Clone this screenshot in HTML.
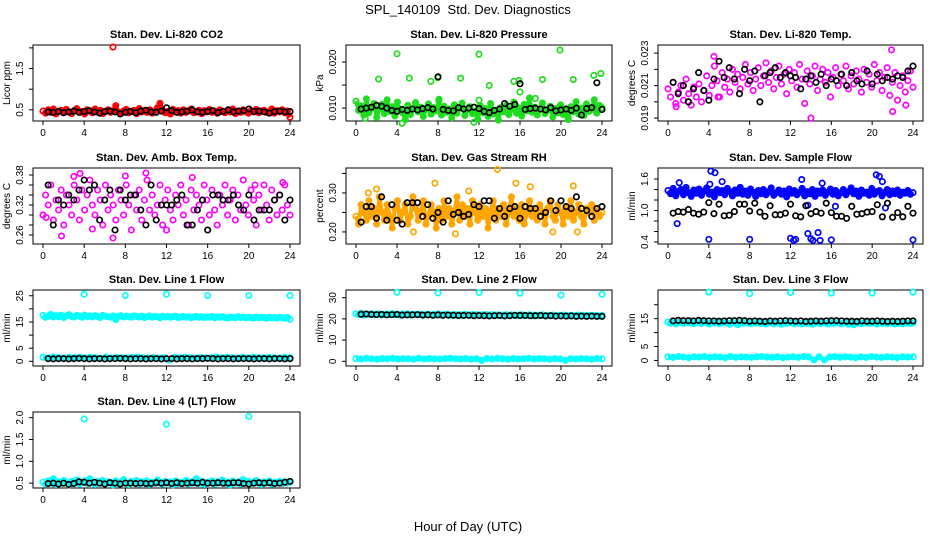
<!DOCTYPE html>
<html><head><meta charset="utf-8">
<style>
html,body{margin:0;padding:0;background:#fff;}
svg{display:block;font-family:"Liberation Sans",sans-serif;}
</style></head>
<body>
<svg id="chart" width="936" height="540" viewBox="0 0 936 540" xmlns="http://www.w3.org/2000/svg">
<text x="468" y="14" font-size="13" text-anchor="middle" xml:space="preserve">SPL_140109  Std. Dev. Diagnostics</text>
<text x="468" y="531" font-size="13" text-anchor="middle">Hour of Day (UTC)</text>
</svg>
<script>
// ---------- data ----------
const co2Main=[0.47,0.42,0.50,0.44,0.52,0.40,0.46,0.49,0.43,0.51,0.45,0.41,0.48,0.53,0.44,0.46,0.40,0.50,0.47,0.43,0.52,0.45,0.49,0.41,0.46,0.50,0.44,0.48,0.60,0.45,0.42,0.47,0.51,0.43,0.46,0.49,0.41,0.53,0.45,0.48,0.44,0.50,0.42,0.47,0.55,0.66,0.49,0.43,0.46,0.40,0.51,0.45,0.48,0.42,0.50,0.44,0.47,0.52,0.43,0.46,0.49,0.41,0.48,0.45,0.51,0.44,0.47,0.42,0.50,0.46,0.43,0.49,0.45,0.52,0.41,0.47,0.44,0.50,0.46,0.42,0.48,0.45,0.51,0.43,0.47,0.49,0.44,0.46,0.52,0.42,0.48,0.45,0.50,0.43,0.47,0.32];
const co2Out=[[6.8,2.02]];
const co2Black=[0.45,0.44,0.46,0.43,0.45,0.47,0.44,0.46,0.48,0.45,0.42,0.46,0.47,0.45,0.40,0.44,0.46,0.43,0.47,0.49,0.45,0.44,0.47,0.55,0.48,0.44,0.45,0.47,0.50,0.45,0.44,0.46,0.48,0.43,0.46,0.50,0.45,0.47,0.48,0.52,0.46,0.47,0.45,0.42,0.46,0.47,0.45,0.46];

const presMain=[0.0115,0.0095,0.0105,0.0085,0.0120,0.0090,0.0100,0.0110,0.0080,0.0098,0.0108,0.0088,0.0118,0.0093,0.0103,0.0083,0.0113,0.0096,0.0090,0.0075,0.0106,0.0086,0.0099,0.0112,0.0092,0.0102,0.0082,0.0097,0.0109,0.0087,0.0101,0.0094,0.0116,0.0085,0.0104,0.0091,0.0098,0.0079,0.0107,0.0089,0.0100,0.0111,0.0084,0.0096,0.0103,0.0088,0.0093,0.0076,0.0105,0.0090,0.0099,0.0082,0.0110,0.0087,0.0095,0.0074,0.0101,0.0092,0.0106,0.0086,0.0097,0.0113,0.0089,0.0100,0.0083,0.0108,0.0094,0.0122,0.0091,0.0102,0.0085,0.0098,0.0111,0.0088,0.0095,0.0104,0.0081,0.0099,0.0090,0.0107,0.0086,0.0096,0.0078,0.0103,0.0092,0.0114,0.0087,0.0100,0.0084,0.0109,0.0093,0.0097,0.0118,0.0089,0.0106,0.0101];
const presOut=[[4.0,0.0218],[12.0,0.0217],[19.9,0.0226],[2.2,0.0163],[5.2,0.0165],[7.3,0.0158],[8.0,0.0166],[10.2,0.0165],[13.0,0.0149],[15.4,0.0158],[15.9,0.0160],[16.0,0.0135],[18.2,0.0162],[21.2,0.0162],[23.2,0.0171],[23.9,0.0175],[12.0,0.0117],[8.1,0.0119],[17.5,0.0121],[4.5,0.0067],[11.5,0.0069],[20.7,0.0075],[0.9,0.0078]];
const presBlack=[0.0098,0.0100,0.0102,0.0106,0.0104,0.0100,0.0095,0.0093,0.0097,0.0095,0.0098,0.0096,0.0099,0.0101,0.0098,0.0168,0.0097,0.0095,0.0094,0.0101,0.0098,0.0100,0.0102,0.0099,0.0093,0.0090,0.0095,0.0098,0.0110,0.0104,0.0108,0.0153,0.0097,0.0099,0.0100,0.0098,0.0096,0.0101,0.0094,0.0096,0.0098,0.0095,0.0100,0.0085,0.0099,0.0101,0.0155,0.0097];

const tempMain=[0.0208,0.0203,0.0212,0.0199,0.0206,0.0210,0.0201,0.0214,0.0205,0.0198,0.0209,0.0203,0.0211,0.0200,0.0207,0.0216,0.0204,0.0210,0.0222,0.0213,0.0203,0.0218,0.0209,0.0214,0.0206,0.0220,0.0212,0.0217,0.0208,0.0215,0.0223,0.0211,0.0218,0.0207,0.0214,0.0221,0.0210,0.0216,0.0224,0.0212,0.0219,0.0208,0.0215,0.0222,0.0211,0.0217,0.0205,0.0220,0.0213,0.0218,0.0209,0.0223,0.0214,0.0199,0.0219,0.0211,0.0216,0.0222,0.0207,0.0214,0.0220,0.0212,0.0218,0.0203,0.0215,0.0221,0.0210,0.0217,0.0213,0.0222,0.0208,0.0216,0.0211,0.0219,0.0214,0.0206,0.0220,0.0212,0.0217,0.0209,0.0223,0.0213,0.0218,0.0207,0.0215,0.0221,0.0204,0.0212,0.0218,0.0201,0.0210,0.0216,0.0206,0.0213,0.0219,0.0209];
const tempOut=[[14.0,0.0190],[21.9,0.0232],[22.0,0.0194],[0.8,0.0197],[4.5,0.0228],[23.3,0.0198],[2.0,0.0200],[4.9,0.0203]];
const tempBlack=[0.0212,0.0205,0.0210,0.0200,0.0208,0.0218,0.0207,0.0201,0.0214,0.0225,0.0215,0.0221,0.0214,0.0205,0.0220,0.0213,0.0219,0.0200,0.0216,0.0218,0.0221,0.0215,0.0218,0.0216,0.0215,0.0208,0.0214,0.0216,0.0212,0.0217,0.0210,0.0214,0.0213,0.0217,0.0210,0.0218,0.0213,0.0211,0.0219,0.0211,0.0217,0.0213,0.0215,0.0214,0.0216,0.0215,0.0219,0.0222];

const boxMain=[0.30,0.34,0.32,0.36,0.29,0.33,0.31,0.35,0.28,0.34,0.32,0.30,0.36,0.33,0.29,0.35,0.31,0.34,0.37,0.32,0.30,0.35,0.33,0.28,0.36,0.31,0.34,0.32,0.29,0.35,0.33,0.30,0.36,0.32,0.27,0.34,0.31,0.35,0.29,0.33,0.37,0.31,0.34,0.30,0.32,0.36,0.28,0.33,0.35,0.31,0.29,0.34,0.32,0.36,0.30,0.33,0.28,0.35,0.31,0.34,0.32,0.29,0.36,0.33,0.30,0.35,0.31,0.28,0.34,0.32,0.36,0.30,0.33,0.35,0.29,0.34,0.31,0.37,0.32,0.30,0.35,0.33,0.28,0.34,0.31,0.36,0.32,0.29,0.35,0.33,0.30,0.34,0.31,0.36,0.32,0.30];
const boxOut=[[0.3,0.295],[1.8,0.258],[3.0,0.377],[3.6,0.383],[6.8,0.254],[10.0,0.384],[14.5,0.375],[4.8,0.272],[12.0,0.27],[8.0,0.378],[23.3,0.365],[20.6,0.36]];
const boxBlack=[0.36,0.28,0.33,0.32,0.34,0.33,0.35,0.37,0.35,0.36,0.29,0.33,0.35,0.27,0.35,0.33,0.34,0.34,0.31,0.28,0.36,0.29,0.32,0.32,0.32,0.33,0.34,0.28,0.28,0.31,0.33,0.27,0.34,0.34,0.33,0.33,0.34,0.32,0.31,0.34,0.29,0.31,0.31,0.31,0.33,0.34,0.29,0.33];

const rhMain=[0.24,0.22,0.27,0.25,0.23,0.28,0.24,0.26,0.22,0.29,0.25,0.23,0.27,0.24,0.21,0.26,0.28,0.23,0.25,0.27,0.22,0.24,0.29,0.26,0.23,0.25,0.28,0.22,0.24,0.27,0.25,0.21,0.26,0.23,0.28,0.24,0.26,0.22,0.25,0.29,0.23,0.27,0.24,0.26,0.22,0.28,0.25,0.23,0.27,0.24,0.26,0.21,0.25,0.28,0.23,0.26,0.24,0.27,0.22,0.25,0.29,0.24,0.26,0.23,0.27,0.22,0.25,0.28,0.24,0.26,0.23,0.27,0.25,0.22,0.26,0.28,0.24,0.23,0.27,0.25,0.22,0.26,0.24,0.28,0.23,0.25,0.27,0.24,0.22,0.26,0.25,0.27,0.23,0.26,0.24,0.25];
const rhOut=[[13.8,0.36],[7.7,0.325],[15.6,0.325],[21.2,0.318],[17.0,0.316],[5.6,0.20],[9.7,0.195],[19.2,0.20],[21.6,0.20],[1.2,0.30],[2.0,0.31],[11.0,0.305]];
const rhBlack=[0.225,0.265,0.265,0.235,0.29,0.23,0.27,0.23,0.22,0.275,0.275,0.275,0.24,0.27,0.235,0.25,0.225,0.28,0.245,0.25,0.24,0.245,0.27,0.265,0.28,0.28,0.235,0.26,0.24,0.26,0.265,0.235,0.265,0.26,0.26,0.24,0.25,0.28,0.255,0.28,0.265,0.26,0.29,0.26,0.255,0.24,0.26,0.265];

const flowMain=[1.38,1.32,1.42,1.28,1.36,1.40,1.30,1.44,1.34,1.27,1.39,1.33,1.41,1.29,1.37,1.43,1.31,1.35,1.26,1.40,1.34,1.38,1.30,1.42,1.36,1.28,1.39,1.33,1.44,1.31,1.37,1.29,1.41,1.35,1.27,1.38,1.32,1.40,1.30,1.36,1.43,1.29,1.34,1.39,1.31,1.37,1.26,1.41,1.33,1.38,1.30,1.35,1.42,1.28,1.36,1.32,1.40,1.27,1.37,1.33,1.39,1.29,1.35,1.41,1.31,1.38,1.28,1.34,1.40,1.30,1.36,1.43,1.32,1.37,1.27,1.39,1.33,1.35,1.29,1.42,1.31,1.36,1.38,1.28,1.34,1.40,1.30,1.37,1.32,1.39,1.29,1.35,1.33,1.38,1.31,1.34];
const flowOut=[[4.0,0.45],[8.0,0.45],[12.0,0.47],[12.3,0.43],[12.5,0.45],[13.7,0.56],[14.0,0.46],[14.2,0.43],[14.7,0.58],[14.9,0.43],[16.0,0.44],[24.0,0.44],[0.9,0.75],[4.2,1.75],[4.6,1.72],[20.4,1.68],[20.7,1.65],[21.0,1.55],[13.1,1.59],[1.1,1.53],[5.3,1.55],[4.1,1.5],[15.1,1.52],[21.3,1.05],[16.4,1.08],[13.7,1.1]];
const flowBlack=[0.95,0.98,0.97,1.02,0.95,0.93,0.97,1.15,0.94,1.12,0.90,0.91,0.98,1.12,1.12,0.99,1.14,0.97,0.89,1.09,0.92,0.92,0.95,1.12,0.90,0.88,1.09,0.94,0.98,0.95,1.14,0.96,0.89,0.89,0.85,1.08,0.93,0.94,0.97,0.98,1.11,0.88,1.14,0.87,0.96,0.88,1.08,0.95];

const l1High=[17.5,16.8,17.2,17.9,16.9,17.4,17.0,17.6,16.7,17.3,17.8,17.1,16.9,17.5,17.2,16.8,17.6,17.0,17.3,16.9,17.4,17.1,16.7,17.5,17.2,17.0,16.8,17.3,15.9,17.1,17.4,16.9,17.2,17.0,16.8,17.3,17.1,16.9,17.2,16.7,17.0,17.3,16.8,17.1,17.0,16.6,17.2,16.9,17.1,16.8,17.0,17.2,16.7,16.9,17.1,16.8,17.0,16.6,16.9,17.1,16.8,17.0,16.7,16.9,16.8,17.1,16.6,16.9,16.8,17.0,16.7,16.5,16.9,16.8,16.6,17.0,16.7,16.9,16.6,16.8,16.7,16.5,16.9,16.6,16.8,16.7,16.4,16.8,16.6,16.7,16.5,16.8,16.6,16.4,16.7,16.0];
const l1Low=[1.5,1.3,1.6,1.4,1.2,1.5,1.4,1.6,1.3,1.5,1.4,1.2,1.6,1.3,1.5,1.4,1.3,1.5,1.6,1.4,1.3,1.5,1.2,1.4,0.5,1.5,1.3,1.6,1.4,1.2,1.5,1.3,1.4,1.6,1.3,1.5,1.4,1.2,1.5,1.3,1.6,1.4,1.3,1.5,1.4,1.2,1.5,1.4];
const l1Out=[[4,25.6],[8,25.1],[12,25.6],[16,25.1],[20,25.1],[24,25.1]];
const l1Black=[1.0,0.9,1.0,1.0,0.9,1.0,1.1,1.0,0.9,1.0,1.0,0.9,1.0,1.0,1.1,1.0,0.9,1.0,1.0,0.9,1.0,1.0,0.9,1.0,1.0,0.9,1.0,1.0,0.9,1.0,1.0,1.1,1.0,0.9,1.0,1.0,0.9,1.0,1.0,1.0,0.9,1.0,1.0,0.9,1.0,1.0,0.9,1.0];

const l2High=[22.4,22.0,22.6,21.8,22.3,22.1,22.5,21.9,22.2,22.4,21.8,22.1,22.3,22.0,22.5,21.9,22.2,21.7,22.3,22.0,22.4,21.8,22.1,22.2,21.9,22.3,21.7,22.0,22.2,21.8,22.1,21.9,22.3,21.7,22.0,22.2,21.6,21.9,22.1,21.8,22.0,21.7,22.2,21.9,21.6,22.1,21.8,22.0,21.7,21.9,22.1,21.6,21.8,22.0,21.7,21.9,21.5,21.8,22.0,21.6,21.9,21.7,21.5,21.8,22.0,21.6,21.7,21.9,21.5,21.8,21.6,21.7,21.9,21.5,21.7,21.6,21.8,21.4,21.7,21.5,21.8,21.6,21.4,21.7,21.5,21.6,21.8,21.4,21.6,21.5,21.7,21.3,21.6,21.5,21.4,21.6];
const l2Low=[1.3,1.1,1.4,1.2,1.0,1.3,1.2,1.4,1.1,1.3,1.2,1.0,1.4,1.1,1.3,1.2,1.1,1.3,1.4,1.2,1.1,1.3,1.0,1.2,0.4,1.3,1.1,1.4,1.2,1.0,1.3,1.1,1.2,1.4,1.1,1.3,1.2,1.0,1.3,1.1,0.5,1.2,1.1,1.3,1.2,1.0,1.3,1.2];
const l2Out=[[4,32.5],[8,32.2],[12,32.4],[16,32.1],[20,31.2],[24,31.6]];
const l2Black=[22.2,22.3,22.1,22.0,22.1,21.9,22.0,22.1,21.8,21.9,21.9,22.0,21.8,21.9,21.7,21.9,21.7,21.8,21.7,21.6,21.6,21.7,21.5,21.6,21.5,21.4,21.5,21.6,21.4,21.5,21.7,21.6,21.6,21.5,21.5,21.6,21.4,21.5,21.3,21.4,21.3,21.4,21.2,21.3,21.2,21.3,21.2,21.2];

const l3High=[13.8,13.4,14.0,13.2,13.6,13.9,13.3,13.7,13.5,14.1,13.2,13.6,13.8,13.3,13.9,13.5,13.1,13.7,13.4,13.9,13.2,13.6,13.8,13.4,13.0,13.7,13.5,12.9,13.6,13.3,13.8,13.5,13.2,13.7,13.4,13.9,13.3,13.6,13.1,13.8,13.5,13.2,13.7,13.4,13.0,13.6,13.3,13.8,13.5,13.2,13.7,13.4,13.1,13.6,13.3,13.8,13.0,13.5,13.7,13.2,13.6,13.4,13.1,13.8,13.3,13.5,13.7,13.2,13.4,13.6,13.0,13.5,12.8,13.3,13.6,13.2,13.5,13.7,13.3,13.4,13.6,13.1,13.5,13.3,13.7,13.2,13.4,13.6,13.1,13.3,13.5,13.2,13.6,13.4,13.3,13.5];
const l3Low=[1.3,1.1,1.4,1.2,1.0,1.3,1.2,1.4,1.1,1.3,1.2,1.0,1.4,1.1,1.3,1.2,1.1,1.3,1.4,1.2,1.1,1.3,1.0,1.2,1.3,1.1,1.4,1.2,0.2,1.3,0.2,1.2,1.4,1.1,1.3,1.2,1.0,1.3,1.1,1.4,1.2,1.1,1.3,1.2,1.0,1.3,1.2,1.3];
const l3Out=[[4,24.5],[8,24.0],[12,24.4],[16,24.2],[20,24.2],[24,24.5]];
const l3Black=[14.2,14.4,14.3,14.3,14.2,14.4,14.3,14.2,14.2,14.1,14.2,14.3,14.3,14.4,14.3,14.1,14.2,14.1,14.0,14.2,14.1,14.2,14.3,14.2,14.1,14.2,14.0,14.1,14.2,14.1,14.2,14.3,14.3,14.2,14.1,14.1,14.0,14.2,14.1,14.1,14.2,14.1,14.0,14.1,14.0,14.1,14.2,14.2];

const l4Main=[0.52,0.48,0.55,0.50,0.60,0.47,0.53,0.49,0.56,0.51,0.46,0.54,0.50,0.57,0.48,0.52,0.55,0.49,0.60,0.51,0.47,0.54,0.50,0.56,0.48,0.53,0.51,0.46,0.55,0.49,0.52,0.58,0.50,0.47,0.54,0.51,0.56,0.48,0.53,0.50,0.55,0.47,0.52,0.49,0.57,0.51,0.48,0.54,0.50,0.53,0.46,0.55,0.49,0.52,0.50,0.56,0.48,0.53,0.51,0.60,0.49,0.54,0.47,0.52,0.50,0.55,0.48,0.53,0.51,0.57,0.49,0.52,0.46,0.55,0.50,0.53,0.48,0.58,0.51,0.54,0.49,0.52,0.56,0.50,0.47,0.53,0.51,0.55,0.48,0.52,0.50,0.54,0.49,0.53,0.51,0.52];
const l4Out=[[4,1.97],[12,1.85],[20,2.03]];
const l4Black=[0.49,0.50,0.48,0.50,0.47,0.49,0.53,0.52,0.50,0.52,0.50,0.48,0.51,0.50,0.48,0.50,0.50,0.49,0.50,0.49,0.49,0.51,0.50,0.51,0.49,0.51,0.49,0.50,0.51,0.50,0.52,0.50,0.50,0.51,0.50,0.50,0.51,0.51,0.49,0.48,0.50,0.51,0.50,0.51,0.49,0.50,0.52,0.54];

const xTicks=[0,4,8,12,16,20,24];

// ---------- panel config ----------
const panels=[
 {id:'co2',col:0,row:0,title:'Stan. Dev. Li-820 CO2',ylab:'Licor ppm',ylim:[0.23,2.07],ticks:[0.5,1.0,1.5,2.0],labels:['0.5','','1.5',''],color:'#ff0000',band:true,series:[co2Main],out:[co2Out],black:co2Black},
 {id:'pressure',col:1,row:0,title:'Stan. Dev. Li-820 Pressure',ylab:'kPa',ylim:[0.0072,0.0237],ticks:[0.010,0.015,0.020],labels:['0.010','','0.020'],color:'#1edc1e',band:true,series:[presMain],out:[presOut],black:presBlack},
 {id:'temp',col:2,row:0,title:'Stan. Dev. Li-820 Temp.',ylab:'degrees C',ylim:[0.01882,0.0235],ticks:[0.019,0.020,0.021,0.022,0.023],labels:['0.019','','0.021','','0.023'],color:'#ff00ff',band:false,series:[tempMain],out:[tempOut],black:tempBlack},
 {id:'box-temp',col:0,row:1,title:'Stan. Dev. Amb. Box Temp.',ylab:'degrees C',ylim:[0.242,0.394],ticks:[0.26,0.28,0.30,0.32,0.34,0.36,0.38],labels:['0.26','','','0.32','','','0.38'],color:'#ff00ff',band:false,series:[boxMain],out:[boxOut],black:boxBlack},
 {id:'rh',col:1,row:1,title:'Stan. Dev. Gas Stream RH',ylab:'percent',ylim:[0.169,0.364],ticks:[0.20,0.25,0.30,0.35],labels:['0.20','','0.30',''],color:'#ffa500',band:true,series:[rhMain],out:[rhOut],black:rhBlack},
 {id:'sample-flow',col:2,row:1,title:'Stan. Dev. Sample Flow',ylab:'ml/min',ylim:[0.362,1.81],ticks:[0.4,0.6,0.8,1.0,1.2,1.4,1.6],labels:['0.4','','','1.0','','','1.6'],color:'#0000ff',band:true,series:[flowMain],out:[flowOut],black:flowBlack},
 {id:'line1',col:0,row:2,title:'Stan. Dev. Line 1 Flow',ylab:'ml/min',ylim:[-1.8,27.2],ticks:[0,5,10,15,20,25],labels:['0','5','','15','','25'],color:'#00ffff',band:true,series:[l1High,l1Low],out:[l1Out],black:l1Black},
 {id:'line2',col:1,row:2,title:'Stan. Dev. Line 2 Flow',ylab:'ml/min',ylim:[-2.2,33.6],ticks:[0,10,20,30],labels:['0','10','20','30'],color:'#00ffff',band:true,series:[l2High,l2Low],out:[l2Out],black:l2Black},
 {id:'line3',col:2,row:2,title:'Stan. Dev. Line 3 Flow',ylab:'ml/min',ylim:[-2,25.3],ticks:[0,5,10,15,20],labels:['0','5','','15',''],color:'#00ffff',band:true,series:[l3High,l3Low],out:[l3Out],black:l3Black},
 {id:'line4',col:0,row:3,title:'Stan. Dev. Line 4 (LT) Flow',ylab:'ml/min',ylim:[0.388,2.13],ticks:[0.5,1.0,1.5,2.0],labels:['0.5','1.0','1.5','2.0'],color:'#00ffff',band:true,series:[l4Main],out:[l4Out],black:l4Black}
];

// ---------- drawing ----------
const NS='http://www.w3.org/2000/svg';
const svg=document.getElementById('chart');
const colX0=[43,356,668], colSpan=[247,246,245], rowTop=[45,168,290,412], H=76;
function mk(tag,attrs,parent){const e=document.createElementNS(NS,tag);for(const k in attrs)e.setAttribute(k,attrs[k]);parent.appendChild(e);return e;}

panels.forEach(p=>{
  const g=mk('g',{},svg);
  
  
  const x0=colX0[p.col], SPAN=colSpan[p.col], left=x0-10, right=x0+SPAN+10, top=rowTop[p.row], bot=top+H;
  const xs=h=>x0+h/24*SPAN;
  const ys=v=>bot-(v-p.ylim[0])/(p.ylim[1]-p.ylim[0])*H;
  const t=mk('text',{x:(left+right)/2,y:top-7,'font-size':11,'font-weight':'bold','text-anchor':'middle'},g);
  t.textContent=p.title;
  
  
  const fr=mk('rect',{x:left,y:top,width:right-left,height:H,fill:'none',stroke:'#000','stroke-width':1},g);
  
  
  const xa=mk('g',{},g);
  
  
  mk('line',{x1:xs(0),x2:xs(24),y1:bot,y2:bot,stroke:'#000'},xa);
  xTicks.forEach(v=>{
    mk('line',{x1:xs(v),x2:xs(v),y1:bot,y2:bot+4,stroke:'#000'},xa);
    const l=mk('text',{x:xs(v),y:bot+15,'font-size':10,'text-anchor':'middle'},xa);
    l.textContent=v;
    
    
  });
  const ya=mk('g',{},g);
  
  
  mk('line',{x1:left,x2:left,y1:ys(p.ticks[0]),y2:ys(p.ticks[p.ticks.length-1]),stroke:'#000'},ya);
  p.ticks.forEach((v,i)=>{
    mk('line',{x1:left-4,x2:left,y1:ys(v),y2:ys(v),stroke:'#000'},ya);
    if(p.labels[i]){
      const l=mk('text',{x:left-10,y:ys(v),'font-size':10,'text-anchor':'middle',transform:`rotate(-90 ${left-10} ${ys(v)})`},ya);
      l.textContent=p.labels[i];
      
      
    }
  });
  const yl=mk('text',{x:left-23,y:(top+bot)/2,'font-size':10,'text-anchor':'middle',transform:`rotate(-90 ${left-23} ${(top+bot)/2})`},g);
  yl.textContent=p.ylab;
  
  
  const pts=mk('g',{fill:'none',stroke:p.color,'stroke-width':1.7},g);
  
  
  p.series.forEach(arr=>{
    if(p.band){
      const d=arr.map((v,i)=>(i?'L':'M')+xs(i*24/(arr.length-1)).toFixed(1)+' '+ys(v).toFixed(1)).join(' ');
      const pl=mk('path',{d:d,'stroke-width':4,'stroke-linejoin':'round'},pts);
      
      
    }
    arr.forEach((v,i)=>{
      const c=mk('circle',{cx:xs(i*24/(arr.length-1)),cy:ys(v),r:2.7},pts);
      
      
    });
  });
  p.out.forEach(arr=>arr.forEach(d=>{
    const c=mk('circle',{cx:xs(d[0]),cy:ys(d[1]),r:2.7},pts);
    
    
  }));
  const bp=mk('g',{fill:'none',stroke:'#000','stroke-width':1.7},g);
  
  
  p.black.forEach((v,i)=>{
    const c=mk('circle',{cx:xs(0.5+i*23.5/(p.black.length-1)),cy:ys(v),r:2.7},bp);
    
    
  });
});
</script>
</body></html>
